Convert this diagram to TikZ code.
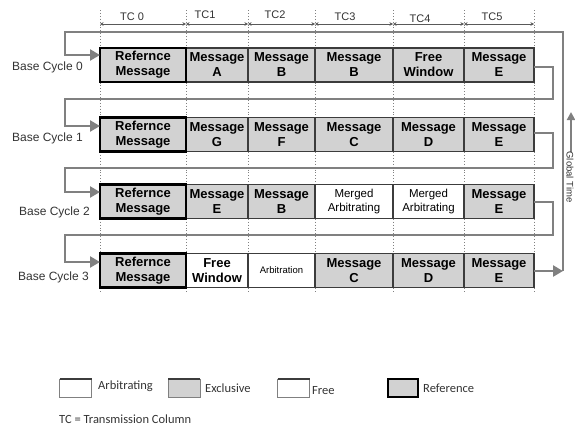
\documentclass[tikz,border=0pt]{standalone}
\usepackage{fontspec}
\setmainfont{Liberation Sans}
\newfontfamily\legendfont{Carlito}
\usetikzlibrary{arrows.meta}
\definecolor{exclgray}{HTML}{D2D2D2}
\definecolor{cellline}{HTML}{3C3C3C}
\definecolor{conngray}{HTML}{808080}
\definecolor{labelgray}{HTML}{333333}
\begin{document}
\begin{tikzpicture}[x=1pt,y=-1pt,
  cell/.style={draw=cellline, line width=1.2pt, minimum height=34pt, inner sep=0pt,
    outer sep=0pt, align=center, text=black, font=\fontsize{13}{15}\selectfont\bfseries},
  excl/.style={cell, fill=exclgray},
  arb/.style={cell, fill=white, font=\fontsize{11.5}{14}\selectfont},
  freew/.style={cell, fill=white},
  refc/.style={cell, fill=exclgray, draw=black, line width=2.6pt},
  conn/.style={draw=conngray, line width=2.6pt},
  tip/.style={-{Triangle[length=10pt,width=11pt]}},
  grid/.style={draw=gray, dotted, line width=0.9pt},
  dim/.style={draw=gray!70!black, line width=0.8pt, {Stealth[length=3.5pt,width=3.5pt]}-{Stealth[length=3.5pt,width=3.5pt]}},
  hdr/.style={font=\fontsize{11}{13}\selectfont, text=labelgray, inner sep=0pt},
  cyc/.style={font=\fontsize{12}{14}\selectfont, text=labelgray, anchor=east, inner sep=0pt},
  legbox/.style={draw=gray, line width=1pt, minimum width=32pt, minimum height=18pt, inner sep=0pt, outer sep=0pt},
  legtext/.style={font=\legendfont\fontsize{12.5}{14}\selectfont, text=labelgray, anchor=west, inner sep=0pt}
]
\useasboundingbox (0,0) rectangle (575,426);

% column boundaries (dotted guides)
\foreach \x in {100,186,248,315,393,464,534}
  \draw[grid] (\x,10) -- (\x,292);

% transmission column headings and spans
\node[hdr] (t0) at (132,17) {TC 0};
\node[hdr] (t1) at (205,15) {TC1};
\node[hdr] (t2) at (275,15) {TC2};
\node[hdr] (t3) at (345,17) {TC3};
\node[hdr] (t4) at (420,19) {TC4};
\node[hdr] (t5) at (492,17) {TC5};
\coordinate (b0) at (100,24);
\coordinate (b1) at (186,24);
\coordinate (b2) at (248,24);
\coordinate (b3) at (315,24);
\coordinate (b4) at (393,24);
\coordinate (b5) at (464,24);
\coordinate (b6) at (534,24);
\draw[dim] (b0) -- (b1);
\draw[dim] (b1) -- (b2);
\draw[dim] (b2) -- (b3);
\draw[dim] (b3) -- (b4);
\draw[dim] (b4) -- (b5);
\draw[dim] (b5) -- (b6);

% base cycle 0
\node[excl, minimum width=62pt] (c01) at (217,65) {Message\\A};
\node[excl, minimum width=67pt] (c02) at (281.5,65) {Message\\B};
\node[excl, minimum width=78pt] (c03) at (354,65) {Message\\B};
\node[excl, minimum width=71pt] (c04) at (428.5,65) {Free\\Window};
\node[excl, minimum width=70pt] (c05) at (499,65) {Message\\E};
\node[refc, minimum width=86pt] (c00) at (143,65) {Refernce\\Message};

% base cycle 1
\node[excl, minimum width=62pt] (c11) at (217,134.5) {Message\\G};
\node[excl, minimum width=67pt] (c12) at (281.5,134.5) {Message\\F};
\node[excl, minimum width=78pt] (c13) at (354,134.5) {Message\\C};
\node[excl, minimum width=71pt] (c14) at (428.5,134.5) {Message\\D};
\node[excl, minimum width=70pt] (c15) at (499,134.5) {Message\\E};
\node[refc, minimum width=86pt] (c10) at (143,134.5) {Refernce\\Message};

% base cycle 2
\node[excl, minimum width=62pt] (c21) at (217,201.5) {Message\\E};
\node[excl, minimum width=67pt] (c22) at (281.5,201.5) {Message\\B};
\node[arb, minimum width=78pt] (c23) at (354,201.5) {Merged\\Arbitrating};
\node[arb, minimum width=71pt] (c24) at (428.5,201.5) {Merged\\Arbitrating};
\node[excl, minimum width=70pt] (c25) at (499,201.5) {Message\\E};
\node[refc, minimum width=86pt] (c20) at (143,201.5) {Refernce\\Message};

% base cycle 3
\node[freew, minimum width=62pt] (c31) at (217,270.5) {Free\\Window};
\node[arb, minimum width=67pt, font=\fontsize{9.5}{11}\selectfont] (c32) at (281.5,270.5) {Arbitration};
\node[excl, minimum width=78pt] (c33) at (354,270.5) {Message\\C};
\node[excl, minimum width=71pt] (c34) at (428.5,270.5) {Message\\D};
\node[excl, minimum width=70pt] (c35) at (499,270.5) {Message\\E};
\node[refc, minimum width=86pt] (c30) at (143,270.5) {Refernce\\Message};

% cycle labels
\node[cyc] (l0) at (83,67) {Base Cycle 0};
\node[cyc] (l1) at (83,138) {Base Cycle 1};
\node[cyc] (l2) at (90,212) {Base Cycle 2};
\node[cyc] (l3) at (89,277) {Base Cycle 3};

% cycle-to-cycle loops
\draw[conn, tip] (c05.east |- 0,67) -- (553,67) -- (553,99) -- (65,99) -- (65,126) -- (c10.west |- 0,126);
\draw[conn, tip] (c15.east |- 0,133) -- (553,133) -- (553,168) -- (65,168) -- (65,192) -- (c20.west |- 0,192);
\draw[conn, tip] (c25.east |- 0,202) -- (553,202) -- (553,235) -- (65,235) -- (65,262) -- (c30.west |- 0,262);

% wrap-around from the last cycle back to the first
\coordinate (g1) at (563,271);
\draw[conn, tip] (c35.east |- g1) -- (g1);
\draw[conn, tip] (g1) -- (563,32) -- (65,32) -- (65,55) -- (c00.west |- 0,55);

% global time axis
\coordinate (gt0) at (571,152);
\coordinate (gt1) at (571,112);
\draw[conn, line width=2pt, -{Triangle[length=8pt,width=8pt]}] (gt0) -- (gt1);
\node[font=\fontsize{9.5}{11}\selectfont, text=labelgray, rotate=-90, inner sep=0pt] (gt) at (570,177) {Global Time};

% legend
\node[legbox, fill=white] (la) at (75.5,388) {};
\draw[cellline, line width=1.6pt] (la.north west) -- (la.north east);
\node[legtext] (lat) at (98,386) {Arbitrating};
\node[legbox, fill=exclgray] (le) at (184,388) {};
\draw[cellline, line width=1.6pt] (le.north west) -- (le.north east);
\node[legtext] (let) at (205,388) {Exclusive};
\node[legbox, fill=white] (lf) at (293.5,388) {};
\draw[cellline, line width=1.6pt] (lf.north west) -- (lf.north east);
\node[legtext] (lft) at (312,391) {Free};
\node[legbox, fill=exclgray, draw=black, line width=2.6pt, minimum width=30pt] (lr) at (403,388) {};
\node[legtext] (lrt) at (423,388) {Reference};
\node[legtext] (tcn) at (59,419) {TC = Transmission Column};
\end{tikzpicture}
\end{document}
